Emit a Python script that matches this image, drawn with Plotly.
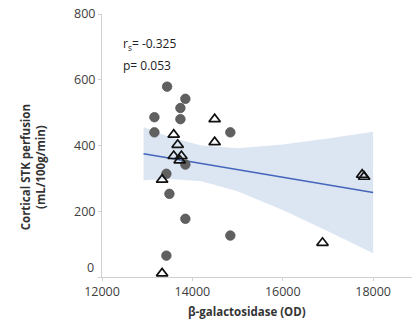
import plotly.graph_objects as go

# Data
circle_x = [13441, 13845, 13735, 13160, 13735, 13160, 14840, 13845, 13425, 13492, 13845, 14840, 13425]
circle_y = [579, 542, 514, 486, 480, 440, 440, 342, 314, 253, 177, 126, 65]

tri_x = [14493, 13587, 14493, 13675, 13587, 13757, 13719, 13330, 13330, 17757, 17801, 16880]
tri_y = [480, 433, 410, 402, 368, 368, 355, 296, 11, 311, 305, 104]

fit_x = [12920, 13500, 14200, 15000, 16000, 17000, 18000]
fit_y = [375, 361.5, 345.3, 326.7, 303.5, 280.3, 257.1]
ci_upper = [456, 425, 400, 392, 403, 421, 442]
ci_lower = [294, 298, 291, 261, 204, 139, 72]

x_ticks = [12000, 14000, 16000, 18000]
y_ticks = [0, 200, 400, 600, 800]
y_labels = ["", "200", "400", "600", "800"]

FONT = "Open Sans"

fig = go.Figure()

fig.add_trace(go.Scatter(
    x=fit_x + fit_x[::-1], y=ci_upper + ci_lower[::-1],
    fill="toself", fillcolor="#dce5f2", line=dict(width=0),
    mode="lines", hoverinfo="skip", showlegend=False))

fig.add_trace(go.Scatter(
    x=fit_x, y=fit_y, mode="lines",
    line=dict(color="#4466bb", width=1.6), showlegend=False))

fig.add_trace(go.Scatter(
    x=circle_x, y=circle_y, mode="markers",
    marker=dict(symbol="circle", size=9.5, color="#606060",
                line=dict(color="#555555", width=0.8)),
    showlegend=False, cliponaxis=False))

fig.add_trace(go.Scatter(
    x=tri_x, y=tri_y, mode="markers",
    marker=dict(symbol="triangle-up-open", size=10, color="#111111",
                line=dict(color="#111111", width=1.7)),
    showlegend=False, cliponaxis=False))

# "0" tick label sits a little above the axis line in the reference
fig.add_annotation(xref="paper", yref="y", x=0, y=y_ticks[0], yshift=10,
                   text="0", showarrow=False, xanchor="right", xshift=-6, yanchor="middle",
                   font=dict(family=FONT, size=12.5, color="#404040"))

fig.add_annotation(xref="paper", yref="paper", x=0.06, y=(277.5 - 44.5) / 263.5,
                   text="r<sub>s</sub>= -0.325", showarrow=False, xanchor="left", yanchor="middle",
                   font=dict(family=FONT, size=12, color="#222222"))
fig.add_annotation(xref="paper", yref="paper", x=0.06, y=(277.5 - 66) / 263.5,
                   text="p= 0.053", showarrow=False, xanchor="left", yanchor="middle",
                   font=dict(family=FONT, size=12, color="#222222"))

fig.add_annotation(xref="paper", yref="paper", x=(32 - 101.5) / 310.5, y=(277.5 - 168) / 263.5,
                   text="<b>Cortical STK perfusion<br>(mL/100g/min)</b>", textangle=-90,
                   showarrow=False, xanchor="center", yanchor="middle",
                   font=dict(family=FONT, size=11.5, color="#333333"))
fig.add_annotation(xref="paper", yref="paper", x=(247 - 101.5) / 310.5, y=(277.5 - 312) / 263.5,
                   text="<b>β-galactosidase (OD)</b>",
                   showarrow=False, xanchor="center", yanchor="middle",
                   font=dict(family=FONT, size=11.5, color="#333333"))

fig.update_layout(
    width=413, height=332,
    margin=dict(l=102, r=1, t=14, b=54.5),
    paper_bgcolor="white", plot_bgcolor="white",
    font=dict(family=FONT, size=12.5, color="#404040"),
    xaxis=dict(range=[12000, 18860], tickvals=x_ticks, ticktext=[str(v) for v in x_ticks],
               showgrid=False, zeroline=False, showline=True, linecolor="#d0d0d0", linewidth=1,
               ticks="outside", ticklen=3, tickcolor="#d0d0d0"),
    yaxis=dict(range=[0, 800], tickvals=y_ticks, ticktext=y_labels,
               showgrid=False, zeroline=False, showline=True, linecolor="#d0d0d0", linewidth=1,
               ticks="outside", ticklen=3, tickcolor="#d0d0d0"),
)

fig.write_html("out.html")
